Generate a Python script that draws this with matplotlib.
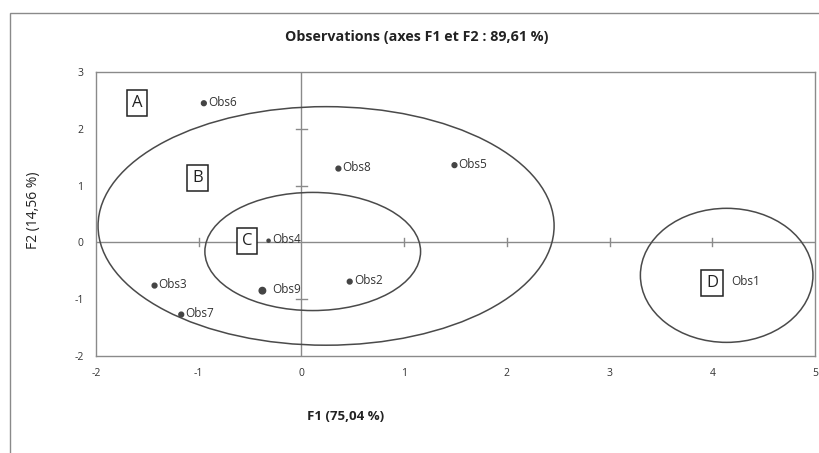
import matplotlib.pyplot as plt
from matplotlib.patches import Ellipse, Rectangle

# observation coordinates on F1 / F2
obs_names = ["Obs1", "Obs2", "Obs3", "Obs4", "Obs5", "Obs6", "Obs7", "Obs8", "Obs9"]
f1 = [4.18, 0.47, -1.43, -0.32, 1.49, -0.95, -1.17, 0.36, -0.38]
f2 = [-0.69, -0.69, -0.76, 0.03, 1.36, 2.45, -1.27, 1.30, -0.85]

# groups drawn as ellipses (center x, center y, width, height)
groups = ["B", "C", "D"]
ell_cx = [0.24, 0.11, 4.14]
ell_cy = [0.29, -0.16, -0.58]
ell_w = [4.44, 2.10, 1.68]
ell_h = [4.20, 2.08, 2.36]

# letter boxes
box_labels = ["A", "B", "C", "D"]
box_x = [-1.60, -1.01, -0.53, 4.00]
box_y = [2.45, 1.14, 0.02, -0.72]

xticks = [-2, -1, 0, 1, 2, 3, 4, 5]
yticks = [-2, -1, 0, 1, 2, 3]

plt.rcParams['font.family'] = ['Open Sans', 'DejaVu Sans']
plt.rcParams['axes.unicode_minus'] = False

fig = plt.figure(figsize=(8.19, 4.53), dpi=100)
fig.patches.append(Rectangle((10 / 819, -0.1), 1.2, 1 - 13 / 453 + 0.1,
                             transform=fig.transFigure, fill=False,
                             edgecolor='#8a8a8a', linewidth=1.0))

ax = fig.add_axes([96 / 819, 1 - 356 / 453, (815 - 96) / 819, (356 - 72) / 453])
ax.set_xlim(-2, 5)
ax.set_ylim(-2, 3)
for s in ax.spines.values():
    s.set_color('#8a8a8a')
    s.set_linewidth(1.0)

ax.set_xticks(xticks)
ax.set_yticks(yticks)
ax.tick_params(length=0, labelsize=7.5, colors='#333333', pad=9)

# axis lines through the origin with small tick marks
ax.axhline(0, color='#8a8a8a', lw=1.0, zorder=1)
ax.axvline(0, color='#8a8a8a', lw=1.0, zorder=1)
for t in xticks:
    if t not in (-2, 0, 5):
        ax.plot([t, t], [-0.07, 0.07], color='#8a8a8a', lw=1.0, zorder=1)
for t in yticks:
    if t not in (-2, 0, 3):
        ax.plot([-0.05, 0.05], [t, t], color='#8a8a8a', lw=1.0, zorder=1)

for i in range(len(groups)):
    ax.add_patch(Ellipse((ell_cx[i], ell_cy[i]), ell_w[i], ell_h[i],
                         fill=False, edgecolor='#4a4a4a', lw=1.1, zorder=2))

sizes = [0, 12, 12, 5, 12, 12, 12, 12, 22]
ax.scatter(f1, f2, s=sizes, color='#444444', zorder=3)
for i, name in enumerate(obs_names):
    if name == "Obs1":
        ax.text(f1[i], f2[i], name, fontsize=8.5, va='center', ha='left', color='#333333')
    else:
        dx = 0.1 if name == "Obs9" else 0.04
        ax.text(f1[i] + dx, f2[i] + 0.02, name, fontsize=8.5, va='center', ha='left', color='#333333')

for i, lab in enumerate(box_labels):
    ax.text(box_x[i], box_y[i], lab, fontsize=12, ha='center', va='center', color='#222222',
            bbox=dict(boxstyle='square,pad=0.3', facecolor='white', edgecolor='#222222', lw=1.1),
            zorder=4)

fig.text(417 / 819, 1 - 37 / 453, "Observations (axes F1 et F2 : 89,61 %)",
         ha='center', va='center', fontsize=10.3, fontweight='bold', color='#222222')
fig.text(346 / 819, 1 - 416 / 453, "F1 (75,04 %)", ha='center', va='center',
         fontsize=9.5, fontweight='bold', color='#222222')
fig.text(33 / 819, 1 - 210 / 453, "F2 (14,56 %)", ha='center', va='center',
         rotation=90, fontsize=10, color='#222222')

fig.savefig("out.png", dpi=100)
